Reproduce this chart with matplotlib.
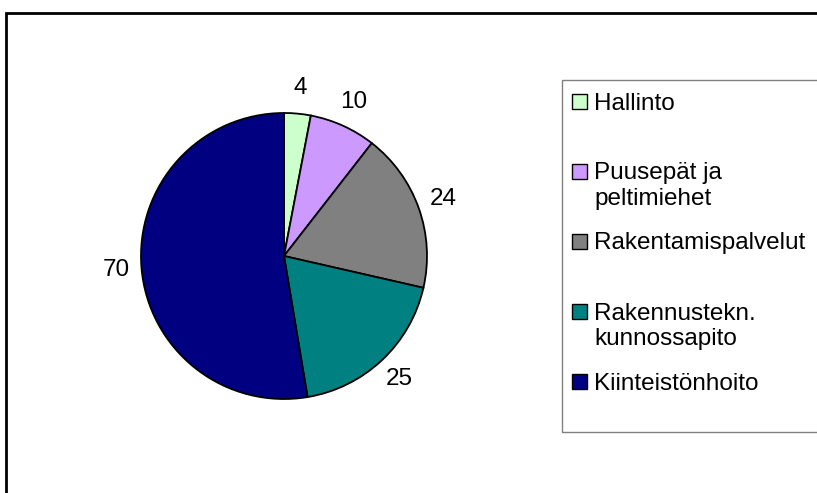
import matplotlib.pyplot as plt
from matplotlib.patches import Rectangle

# === Data ===
categories = ["Hallinto", "Puusepät ja\npeltimiehet", "Rakentamispalvelut",
              "Rakennustekn.\nkunnossapito", "Kiinteistönhoito"]
values = [4, 10, 24, 25, 70]
colors = ["#CCFFCC", "#CC99FF", "#808080", "#008080", "#000080"]

W, H = 817, 493
plt.rcParams["font.family"] = ["Liberation Sans", "DejaVu Sans"]
FS = 17.5

fig = plt.figure(figsize=(W / 100, H / 100), dpi=100)

# === Outer chart frame (clipped on right and bottom like the source) ===
fig.add_artist(Rectangle((6 / W, -0.1), 1.2, (1 - 13 / H) + 0.1,
                         transform=fig.transFigure, fill=False,
                         edgecolor="black", linewidth=2))

# === Pie ===
cx, cy, R = 284, 256, 143
span = 1.4
ax = fig.add_axes([(cx - R * span) / W, (H - cy - R * span) / H,
                   2 * R * span / W, 2 * R * span / H])
wedges, texts = ax.pie(values, colors=colors, labels=[str(v) for v in values],
                       startangle=90, counterclock=False, labeldistance=1.18,
                       wedgeprops=dict(edgecolor="black", linewidth=1.3),
                       textprops=dict(fontsize=FS))
for t in texts:
    t.set_ha("center")
    t.set_va("center")
ax.set_xlim(-span, span)
ax.set_ylim(-span, span)
ax.set_aspect("equal")
ax.axis("off")

# === Legend box ===
lx, ltop, lbot = 562, 80, 432
fig.add_artist(Rectangle((lx / W, 1 - lbot / H), 1.0, (lbot - ltop) / H,
                         transform=fig.transFigure, fill=False,
                         edgecolor="#808080", linewidth=1))
for i, (name, col) in enumerate(zip(categories, colors)):
    y = 101 + 70 * i
    fig.add_artist(Rectangle((572 / W, 1 - (y + 8) / H), 15 / W, 15 / H,
                             transform=fig.transFigure, facecolor=col,
                             edgecolor="black", linewidth=1))
    for j, line in enumerate(name.split("\n")):
        fig.text(594 / W, 1 - (y + 8.5 + 25 * j) / H, line, fontsize=FS,
                 va="baseline", ha="left")
fig.savefig("out.png", dpi=100)
